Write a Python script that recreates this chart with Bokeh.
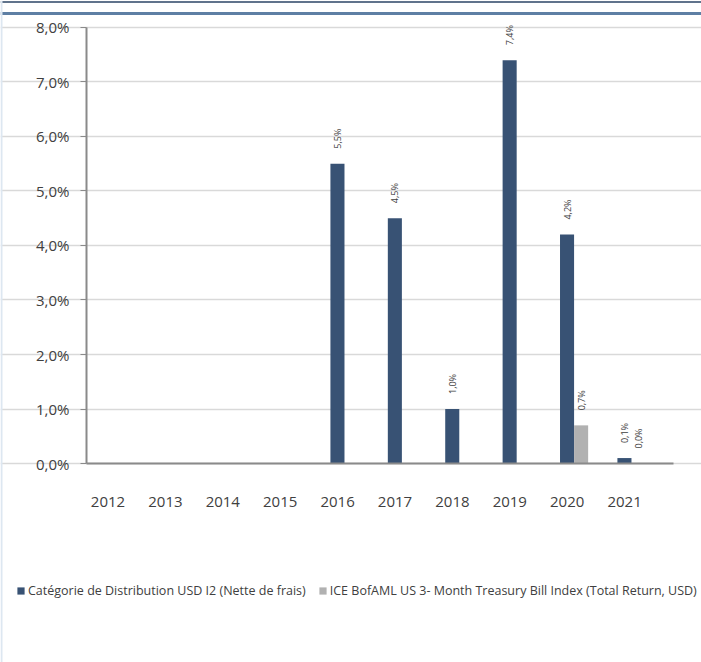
import math
import numpy as np
from bokeh.plotting import figure
from bokeh.models import (ColumnDataSource, Range1d, FixedTicker, Legend, LegendItem, Span)
from bokeh.core.properties import value
from bokeh.embed import file_html
from bokeh.resources import INLINE

# ---- data ----
years = ["2012", "2013", "2014", "2015", "2016", "2017", "2018", "2019", "2020", "2021"]
fund = [np.nan, np.nan, np.nan, np.nan, 5.5, 4.5, 1.0, 7.4, 4.2, 0.1]
index = [np.nan, np.nan, np.nan, np.nan, np.nan, np.nan, np.nan, np.nan, 0.7, 0.0]
fund_labels = ["", "", "", "", "5,5%", "4,5%", "1,0%", "7,4%", "4,2%", "0,1%"]
index_labels = ["", "", "", "", "", "", "", "", "0,7%", "0,0%"]
y_ticks = [0, 1, 2, 3, 4, 5, 6, 7, 8]
y_tick_labels = ["0,0%", "1,0%", "2,0%", "3,0%", "4,0%", "5,0%", "6,0%", "7,0%", "8,0%"]
fund_name = "Catégorie de Distribution USD I2 (Nette de frais)"
index_name = "ICE BofAML US 3- Month Treasury Bill Index (Total Return, USD)"

NAVY = "#385274"
GREY = "#b1b1b1"
TXT = "#404040"
AXIS = "#8a8a8a"
FONT = "Open Sans"

W, H = 701, 662
# the frame covers the whole canvas; axes are pinned inside it
X_START, X_END = -1.993, 10.22
Y_START, Y_END = -3.651, 8.495
Y_AXIS_AT = -0.495
X_AXIS_END = 9.74

bw = 0.245
xc = np.arange(len(years), dtype=float)

src_f = ColumnDataSource(dict(x=xc - bw / 2, top=fund, lab=fund_labels))
src_i = ColumnDataSource(dict(x=xc + bw / 2, top=index, lab=index_labels))

p = figure(width=W, height=H, output_backend="svg", toolbar_location=None,
           x_range=Range1d(X_START, X_END), y_range=Range1d(Y_START, Y_END),
           min_border=0)
p.title.visible = False
p.outline_line_color = None
p.background_fill_color = "white"
p.border_fill_color = "white"

rf = p.vbar(x="x", top="top", bottom=0, width=bw, source=src_f, fill_color=NAVY, line_color=None)
ri = p.vbar(x="x", top="top", bottom=0, width=bw, source=src_i, fill_color=GREY, line_color=None)

for src in (src_f, src_i):
    p.text(x="x", y="top", text="lab", source=src, angle=math.pi / 2,
           text_align="left", text_baseline="middle", y_offset=-15,
           text_font=value(FONT), text_font_size="9px", text_color=TXT)

# y axis (pinned at the left edge of the plotting region)
p.yaxis.fixed_location = Y_AXIS_AT
p.yaxis.ticker = FixedTicker(ticks=y_ticks)
p.yaxis.major_label_overrides = {t: l for t, l in zip(y_ticks, y_tick_labels)}
p.yaxis.bounds = (0, 8)
p.yaxis.axis_line_color = AXIS
p.yaxis.axis_line_width = 2
p.yaxis.major_tick_line_color = AXIS
p.yaxis.major_tick_out = 6
p.yaxis.major_tick_in = 0
p.yaxis.minor_tick_line_color = None
p.yaxis.major_label_standoff = 11
p.yaxis.major_label_text_font = FONT
p.yaxis.major_label_text_font_size = "15px"
p.yaxis.major_label_text_color = TXT

# x axis (pinned at zero)
p.xaxis.fixed_location = 0
p.xaxis.bounds = (Y_AXIS_AT, X_AXIS_END)
p.xaxis.ticker = FixedTicker(ticks=list(xc - 0.12))
p.xaxis.major_label_overrides = {float(x - 0.12): y for x, y in zip(xc, years)}
p.xaxis.axis_line_color = AXIS
p.xaxis.axis_line_width = 2
p.xaxis.major_tick_line_color = None
p.xaxis.minor_tick_line_color = None
p.xaxis.major_label_standoff = 27
p.xaxis.major_label_text_font = FONT
p.xaxis.major_label_text_font_size = "15px"
p.xaxis.major_label_text_color = TXT

p.xgrid.grid_line_color = None
p.ygrid.ticker = FixedTicker(ticks=y_ticks)
p.ygrid.bounds = (Y_AXIS_AT, X_AXIS_END)
p.ygrid.grid_line_color = "#d9d9d9"
p.ygrid.grid_line_width = 1.5

legend = Legend(items=[LegendItem(label=fund_name, renderers=[rf]),
                       LegendItem(label=index_name, renderers=[ri])],
                orientation="horizontal", location=(16, 63),
                glyph_width=9, glyph_height=9, label_standoff=3, spacing=12,
                padding=0, margin=0, border_line_color=None, background_fill_alpha=0,
                label_text_font=FONT, label_text_font_size="12.5px", label_text_color=TXT,
                label_height=16)
p.add_layout(legend, "center")

# decorative rules of the page header and left edge
def y_of_px(py):
    return Y_END - py * (Y_END - Y_START) / H

def x_of_px(px):
    return X_START + px * (X_END - X_START) / W

p.add_layout(Span(location=y_of_px(1.5), dimension="width", line_color="#2b4466", line_width=1.5))
p.add_layout(Span(location=y_of_px(13), dimension="width", line_color="#5e7fa4", line_width=3))
p.add_layout(Span(location=x_of_px(1), dimension="height", line_color="#dde7f1", line_width=2))

open("out.html", "w").write(file_html(p, INLINE))
